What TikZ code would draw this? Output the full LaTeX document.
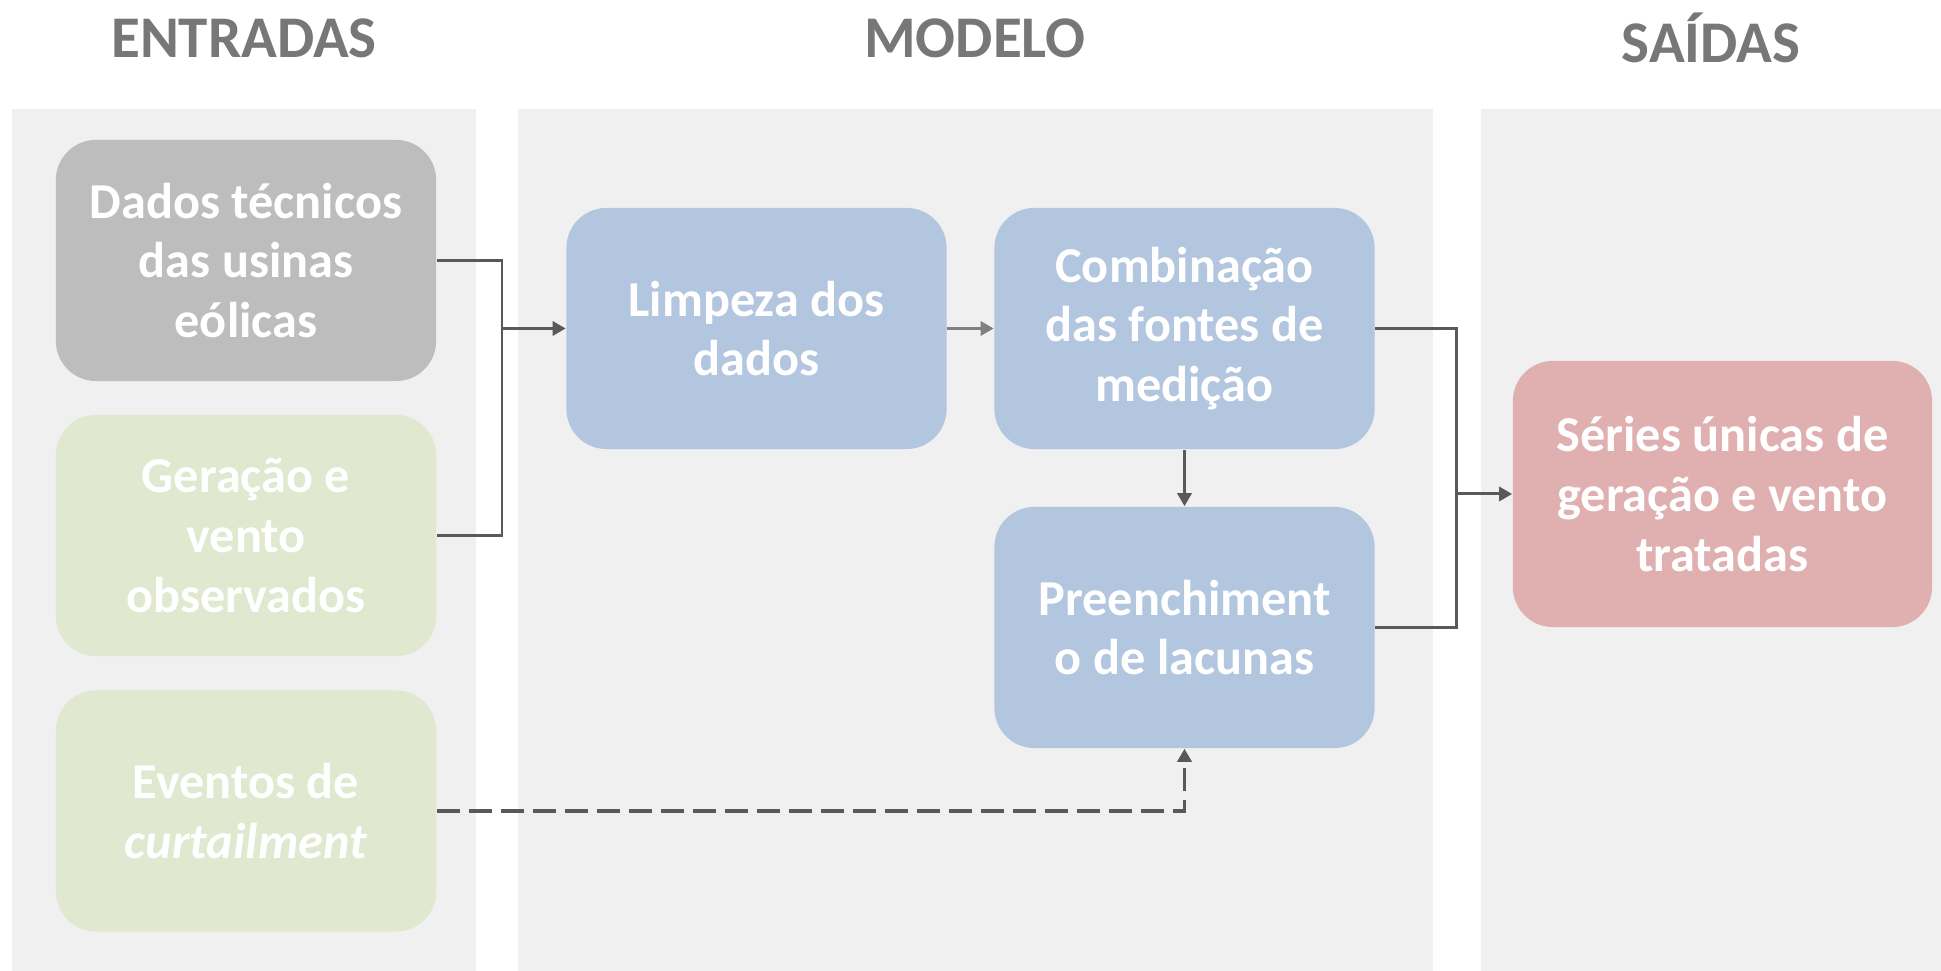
\documentclass[tikz,border=0pt]{standalone}
\usepackage{fontspec}
\setmainfont{Carlito}
\usetikzlibrary{arrows.meta,positioning,calc}
\definecolor{panelgray}{HTML}{F0F0F0}
\definecolor{headgray}{HTML}{777777}
\definecolor{techgray}{HTML}{BDBDBD}
\definecolor{inputgreen}{HTML}{E0E8CF}
\definecolor{modelblue}{HTML}{B3C6DF}
\definecolor{outputpink}{HTML}{E0B0B0}
\definecolor{linkdark}{HTML}{595959}
\definecolor{linklight}{HTML}{808080}
\tikzset{
  panel/.style={fill=panelgray, draw=none},
  header/.style={
    text=headgray,
    font=\fontsize{16.8}{20}\selectfont\bfseries,
    inner sep=0pt
  },
  block/.style={
    draw=none,
    rounded corners=0.4cm,
    minimum width=3.8cm,
    minimum height=2.41cm,
    align=center,
    inner sep=0pt,
    text=white,
    font=\fontsize{14.3}{17}\selectfont\bfseries
  },
  techblock/.style={block, fill=techgray},
  inblock/.style={block, fill=inputgreen},
  modelblock/.style={block, fill=modelblue},
  outblock/.style={block, fill=outputpink, minimum width=4.19cm, minimum height=2.66cm},
  wire/.style={draw=linkdark, line width=0.85pt},
  link/.style={wire, -{Triangle[length=3.7pt, width=4pt]}},
  dashlink/.style={link, line width=1pt, dash pattern=on 6.5pt off 2.6pt}
}

\begin{document}
\begin{tikzpicture}[x=0.01cm, y=-0.01cm]
  \useasboundingbox (0,0) rectangle (1941,971);
  % panels
  \fill[panel] (12,109) rectangle (476,971);
  \fill[panel] (518,109) rectangle (1433,971);
  \fill[panel] (1481,109) rectangle (1941,971);
  % headers
  \node[header] (hentradas) at (244,38) {ENTRADAS};
  \node[header] (hmodelo) at (975,38) {MODELO};
  \node[header] (hsaidas) at (1711,38) {SAÍDAS};
  % inputs
  \node[techblock] (dados) at (246,260.5) {Dados técnicos\\das usinas\\eólicas};
  \node[inblock] (geracao) at (246,535.5) {Geração e\\vento\\observados};
  \node[inblock] (eventos) at (246,811) {Eventos de\\\textit{curtailment}};
  % model
  \node[modelblock] (limpeza) at (756.5,328.5) {Limpeza dos\\dados};
  \node[modelblock] (combinacao) at (1184.5,328.5) {Combinação\\das fontes de\\medição};
  \node[modelblock] (preench) at (1184.5,627.5) {Preenchiment\\o de lacunas};
  % output
  \node[outblock] (series) at (1722.5,494) {Séries únicas de\\geração e vento\\tratadas};
  % connectors
  \coordinate (joinin) at (502,328.5);
  \coordinate (joinout) at (1456,494);
  \draw[wire] (dados.east) -| (joinin);
  \draw[wire] (geracao.east) -| (joinin);
  \draw[link] (joinin) -- (limpeza.west);
  \draw[link, color=linklight] (limpeza) -- (combinacao);
  \draw[link] (combinacao) -- (preench);
  \draw[wire] (combinacao.east) -| (joinout);
  \draw[wire] (preench.east) -| (joinout);
  \draw[link] (joinout) -- (series.west);
  \draw[dashlink] (eventos.east) -| (preench.south);
\end{tikzpicture}
\end{document}
